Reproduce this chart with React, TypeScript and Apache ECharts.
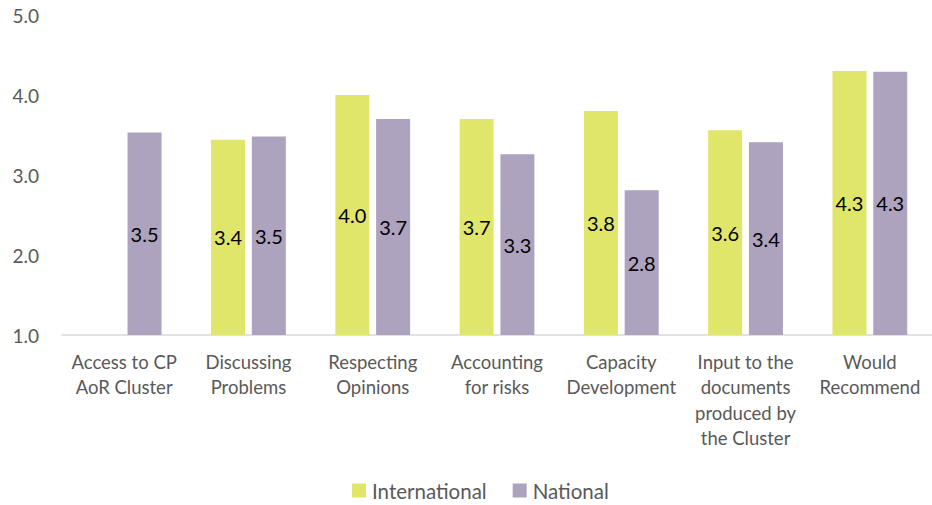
import React, { useEffect, useRef } from "react";
import * as echarts from "echarts";

const categories = [
  "Access to CP\nAoR Cluster",
  "Discussing\nProblems",
  "Respecting\nOpinions",
  "Accounting\nfor risks",
  "Capacity\nDevelopment",
  "Input to the\ndocuments\nproduced by\nthe Cluster",
  "Would\nRecommend",
];
const international = [null, 3.44, 4.0, 3.7, 3.8, 3.56, 4.3];
const national = [3.53, 3.48, 3.7, 3.26, 2.81, 3.41, 4.29];
const yTicks = { min: 1, max: 5, interval: 1 };

const FONT = "Lato, 'Noto Sans', sans-serif";

export default function App() {
  const ref = useRef<HTMLDivElement>(null);
  useEffect(() => {
    if (!ref.current) return;
    const chart = echarts.init(ref.current, null, { renderer: "svg" });
    const label = {
      show: true,
      position: "inside",
      color: "#000000",
      fontSize: 20,
      fontFamily: FONT,
      formatter: (p: any) => (p.value == null ? "" : Number(p.value).toFixed(1)),
    };
    chart.setOption({
      animation: false,
      textStyle: { fontFamily: FONT },
      grid: { left: 62, right: -5, top: 15, bottom: 170, containLabel: false },
      legend: {
        left: 347,
        top: 475,
        itemWidth: 14,
        itemHeight: 14,
        itemGap: 26,
        icon: "rect",
        textStyle: { fontSize: 20.5, lineHeight: 20, color: "#595959", fontFamily: FONT, padding: [0, 0, 0, 1] },
        data: ["International", "National"],
      },
      xAxis: {
        type: "category",
        data: categories,
        axisLine: { lineStyle: { color: "#D9D9D9", width: 1.5 } },
        axisTick: { show: false },
        axisLabel: {
          interval: 0,
          color: "#595959",
          fontSize: 18.5,
          lineHeight: 25.5,
          margin: 14,
          fontFamily: FONT,
          verticalAlign: "top",
        },
      },
      yAxis: {
        type: "value",
        min: yTicks.min,
        max: yTicks.max,
        interval: yTicks.interval,
        splitLine: { show: false },
        axisLine: { show: false },
        axisTick: { show: false },
        axisLabel: {
          color: "#595959",
          fontSize: 19,
          margin: 23,
          fontFamily: FONT,
          formatter: (v: number) => v.toFixed(1),
        },
      },
      series: [
        {
          name: "International",
          type: "bar",
          data: international,
          barWidth: 34,
          barGap: "20%",
          itemStyle: { color: "#E0E66A" },
          label,
        },
        {
          name: "National",
          type: "bar",
          data: national,
          barWidth: 34,
          barGap: "20%",
          itemStyle: { color: "#ADA3BE" },
          label,
        },
      ],
    });
    return () => chart.dispose();
  }, []);
  return (
    <div
      ref={ref}
      style={{ position: "absolute", left: 0, top: 0, width: 932, height: 505, background: "#fff" }}
    />
  );
}
